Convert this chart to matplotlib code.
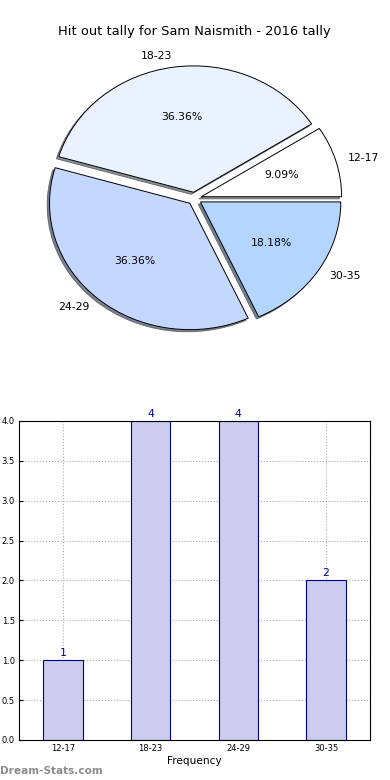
import matplotlib

matplotlib.use("Agg")
import matplotlib.pyplot as plt

# data
labels = ["12-17", "18-23", "24-29", "30-35"]
counts = [1, 4, 4, 2]
pie_colors = ["#ffffff", "#eaf1ff", "#c4d7ff", "#b3d5ff"]
explode = [0.05, 0.05, 0.05, 0.05]
title = "Hit out tally for Sam Naismith - 2016 tally"

plt.rcParams.update({
    "font.family": "DejaVu Sans",
    "xtick.direction": "in",
    "ytick.direction": "in",
    "xtick.labelsize": 6,
    "ytick.labelsize": 6,
})

fig = plt.figure(figsize=(3.9, 7.8), dpi=100)

# pie
ax1 = fig.add_axes([0.0487, 0.543, 0.9, 0.405])
ax1.pie(counts, labels=labels, colors=pie_colors, explode=explode,
        autopct="%1.2f%%", startangle=0, labeldistance=1.09,
        shadow=dict(ox=-0.012, oy=-0.012, shade=0.45, alpha=0.9,
                    edgecolor="#555555", linewidth=0.6),
        wedgeprops=dict(edgecolor="black", linewidth=0.7),
        textprops=dict(fontsize=7.8))
ax1.set_aspect("auto")
ax1.set_xlim(-1.25, 1.25)
ax1.set_ylim(-1.25, 1.25)
ax1.set_title(title, fontsize=9.4, pad=4)

# bars
ax2 = fig.add_axes([0.0487, 0.0513, 0.9, 0.409])
x = range(len(labels))
ax2.bar(x, counts, width=0.45, color="#ccccee", edgecolor="#00008b",
        linewidth=0.8, zorder=2)
for xi, c in zip(x, counts):
    ax2.text(xi, c + 0.03, str(c), ha="center", va="bottom",
             color="#0000aa", fontsize=7.8)
ax2.set_xticks(list(x))
ax2.set_xticklabels(labels)
ax2.set_xlim(-0.5, 3.5)
ax2.set_ylim(0, 4)
ax2.set_yticks([0, 0.5, 1.0, 1.5, 2.0, 2.5, 3.0, 3.5, 4.0])
ax2.set_yticklabels(["0.0", "0.5", "1.0", "1.5", "2.0", "2.5", "3.0", "3.5", "4.0"])
ax2.grid(True, linestyle=":", color="#aaaaaa", linewidth=0.8, zorder=1)
ax2.set_axisbelow(True)
ax2.set_xlabel("Frequency", fontsize=7.6, labelpad=2)
ax2.tick_params(length=3, pad=3)

fig.text(0.0, 0.005, "Dream-Stats.com", color="#8c8c8c", fontsize=7.6,
         fontweight="bold", ha="left", va="bottom")

fig.savefig("out.png", dpi=100)
